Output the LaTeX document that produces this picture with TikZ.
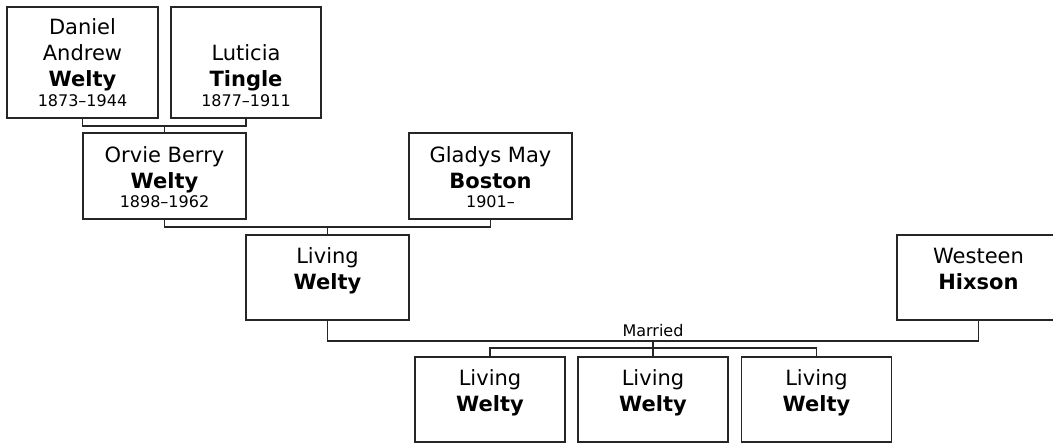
\documentclass[tikz,border=0pt]{standalone}
\usepackage{fontspec}
\setmainfont{DejaVu Sans}
\begin{document}
\begin{tikzpicture}[x=1pt,y=-1pt,
  pbox/.style={draw=black!85,line width=1.1pt,minimum width=163pt,minimum height=85pt,inner sep=0pt},
  gbox/.style={pbox,minimum width=151pt,minimum height=111pt},
  cbox/.style={pbox,minimum width=150pt},
  nm/.style={anchor=base,inner sep=0pt,font=\fontsize{21}{25}\selectfont},
  sn/.style={anchor=base,inner sep=0pt,font=\fontsize{21}{25}\selectfont\bfseries},
  yr/.style={anchor=base,inner sep=0pt,font=\fontsize{16}{19}\selectfont},
  conn/.style={draw=black!85,line width=1.1pt}]
\useasboundingbox (0,0) rectangle (1053,443);
\clip (0,0) rectangle (1053,443);
% boxes
\node[gbox] (dan) at (82.5,62.5) {};
\node[gbox,minimum width=150pt] (lut) at (246,62.5) {};
\node[pbox,minimum height=86pt] (orv) at (164.5,176) {};
\node[pbox,minimum height=86pt] (gla) at (490.5,176) {};
\node[pbox] (liv) at (327.5,277.5) {};
\node[pbox] (wes) at (978.5,277.5) {};
\node[cbox] (c1) at (490,399.5) {};
\node[cbox] (c2) at (653,399.5) {};
\node[cbox] (c3) at (816.5,399.5) {};
% texts
\node[nm] (dan1) at (82.5,35) {Daniel};
\node[nm] (dan2) at (82.5,61) {Andrew};
\node[sn] (dan3) at (82.5,87) {Welty};
\node[yr] (dan4) at (82.5,107) {1873–1944};
\node[nm] (lut1) at (246,61) {Luticia};
\node[sn] (lut2) at (246,87) {Tingle};
\node[yr] (lut3) at (246,107) {1877–1911};
\node[nm] (orv1) at (164.5,163) {Orvie Berry};
\node[sn] (orv2) at (164.5,189) {Welty};
\node[yr] (orv3) at (164.5,208) {1898–1962};
\node[nm] (gla1) at (490.5,163) {Gladys May};
\node[sn] (gla2) at (490.5,189) {Boston};
\node[yr] (gla3) at (490.5,208) {1901–};
\node[nm] (liv1) at (327.5,264) {Living};
\node[sn] (liv2) at (327.5,290) {Welty};
\node[nm] (wes1) at (978.5,264) {Westeen};
\node[sn] (wes2) at (978.5,290) {Hixson};
\node[nm] (c1a) at (490,386) {Living};
\node[sn] (c1b) at (490,412) {Welty};
\node[nm] (c2a) at (653,386) {Living};
\node[sn] (c2b) at (653,412) {Welty};
\node[nm] (c3a) at (816.5,386) {Living};
\node[sn] (c3b) at (816.5,412) {Welty};
% connectors
\coordinate (j1) at (164.5,126);
\coordinate (j2) at (327.5,227);
\coordinate (j3) at (653,341);
\coordinate (j4) at (653,348);
\path[conn] (dan.south) |- (j1) -| (lut.south);
\path[conn] (j1) -- (orv.north);
\path[conn] (orv.south) |- (j2) -| (gla.south);
\path[conn] (j2) -- (liv.north);
\path[conn] (liv.south) |- (j3) -| (wes.south);
\node[yr] (mar) at (653,336.5) {Married};
\path[conn] (j3) -- (c2.north);
\path[conn] (c1.north) |- (j4) -| (c3.north);
\end{tikzpicture}
\end{document}
